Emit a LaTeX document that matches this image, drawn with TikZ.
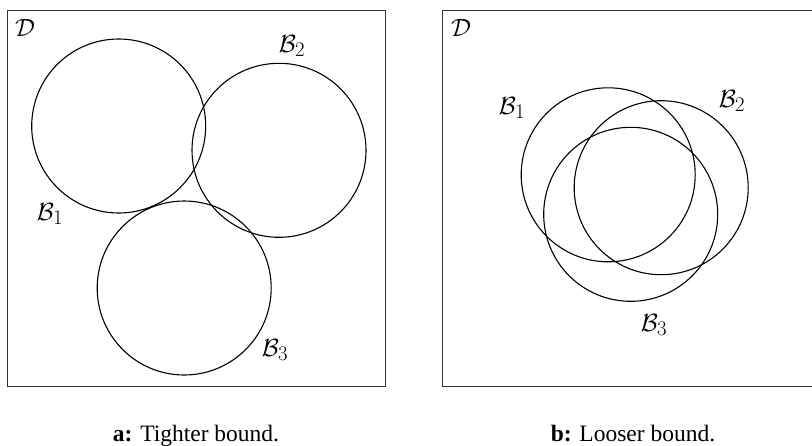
\documentclass[tikz,border=0pt]{standalone}
\usepackage{fontspec}
\newfontfamily\capfont{Liberation Serif}
\begin{document}
\begin{tikzpicture}[x=1pt,y=-1pt,
  frame/.style={draw=black!80,line width=1.4pt},
  ball/.style={draw=black,line width=1.1pt,circle,minimum size=174pt,inner sep=0pt},
  lbl/.style={inner sep=0pt,font=\fontsize{28}{32}\selectfont},
  capt/.style={inner sep=0pt,anchor=base,font=\capfont\fontsize{23.5}{28}\selectfont}]
\useasboundingbox (0,0) rectangle (812,445);
% left panel
\draw[frame] (7.3,10.7) rectangle (385.7,386.7);
\node[ball] (a1) at (118.7,126) {};
\node[ball] (a2) at (279,150.3) {};
\node[ball] (a3) at (184.2,288) {};
\node[lbl] (aD) at (25,28) {$\mathcal{D}$};
\node[lbl] (aB1) at (50,214) {$\mathcal{B}_1$};
\node[lbl] (aB2) at (292,46) {$\mathcal{B}_2$};
\node[lbl] (aB3) at (275,350) {$\mathcal{B}_3$};
% right panel
\draw[frame] (442.3,10.4) rectangle (820.7,386.7);
\node[ball] (b1) at (608.2,174.8) {};
\node[ball] (b2) at (661.2,187.7) {};
\node[ball] (b3) at (630.7,214.3) {};
\node[lbl] (bD) at (461,28) {$\mathcal{D}$};
\node[lbl] (bB1) at (512,108) {$\mathcal{B}_1$};
\node[lbl] (bB2) at (732,101) {$\mathcal{B}_2$};
\node[lbl] (bB3) at (654,325) {$\mathcal{B}_3$};
% captions
\node[capt] (ca) at (196,441) {\textbf{a:} Tighter bound.};
\node[capt] (cb) at (633,441) {\textbf{b:} Looser bound.};
\end{tikzpicture}
\end{document}
